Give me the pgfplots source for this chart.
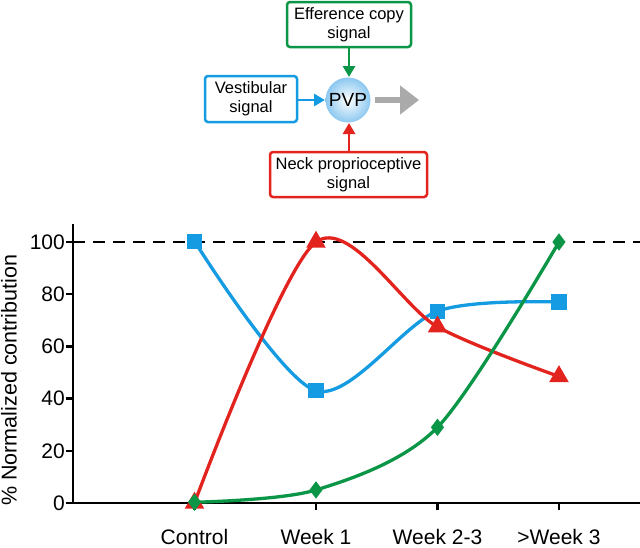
\documentclass[border=0pt]{standalone}
\usepackage{fontspec}
\setmainfont{Liberation Sans}
\usepackage{pgfplots}
\pgfplotsset{compat=1.18}
\usetikzlibrary{arrows.meta}
\definecolor{cblue}{RGB}{20,155,225}
\definecolor{cred}{RGB}{226,35,30}
\definecolor{cgreen}{RGB}{10,150,70}
\definecolor{cgray}{RGB}{170,170,170}
\definecolor{cball}{RGB}{140,200,240}
\begin{document}
\begin{tikzpicture}[x=1pt,y=1pt]
\useasboundingbox (0pt,0pt) rectangle (640pt,-547pt);
% diagram
\draw[cgreen, line width=2.5pt, rounded corners=3pt] (287pt,-2pt) rectangle (411pt,-47pt);
\node[align=center, font=\fontsize{16.5}{19}\selectfont, inner sep=0pt] at (349pt,-24.5pt) {Efference copy\\signal};
\draw[cblue, line width=2.5pt, rounded corners=3pt] (205pt,-76pt) rectangle (297pt,-122pt);
\node[align=center, font=\fontsize{16.5}{19}\selectfont, inner sep=0pt] at (251pt,-99pt) {Vestibular\\signal};
\draw[cred, line width=2.5pt, rounded corners=3pt] (270pt,-152pt) rectangle (427pt,-197pt);
\node[align=center, font=\fontsize{16.5}{19}\selectfont, inner sep=0pt] at (348.5pt,-174.5pt) {Neck proprioceptive\\signal};
\draw[cblue, line width=2.8pt, -{Triangle[length=11pt,width=12pt]}] (297pt,-100pt) -- (325pt,-100pt);
\draw[cgreen, line width=2.8pt, -{Triangle[length=11pt,width=12pt]}] (349pt,-47pt) -- (349pt,-77pt);
\draw[cred, line width=2.8pt, -{Triangle[length=11pt,width=12pt]}] (349pt,-152pt) -- (349pt,-123pt);
\shade[inner color=white, outer color=cball] (348pt,-100pt) circle (22.5pt);
\node[font=\fontsize{19}{22}\selectfont] at (348pt,-100pt) {PVP};
\draw[cgray, line width=6.5pt, -{Triangle[length=19pt,width=28pt]}] (375pt,-100pt) -- (419pt,-100pt);
% chart
\begin{axis}[
  at={(73pt,-503pt)}, anchor=south west,
  scale only axis, width=567pt, height=279pt,
  xmin=0, xmax=4.667, ymin=0, ymax=106.9,
  axis x line=bottom, axis y line=left,
  axis line style={-, line width=2.5pt, black},
  tick align=outside,
  major tick length=6.5pt,
  every tick/.style={black, line width=2.3pt},
  xtick={1,2,3,4},
  xticklabels={Control,Week 1,Week 2-3,>Week 3},
  ytick={0,20,40,60,80,100},
  /pgf/number format/assume math mode=true,
  ticklabel style={font=\fontsize{21}{24}\selectfont},
  xticklabel style={anchor=base, yshift=-34.5pt},
  yticklabel style={anchor=east, inner xsep=1.5pt},
  ylabel={\% Normalized contribution},
  ylabel style={at={(axis description cs:-0.113,0.44)}, anchor=center, font=\fontsize{21.5}{24}\selectfont},
  clip=false,
]
\addplot[black, line width=2.8pt, dash pattern=on 12pt off 8pt] coordinates {(0,100) (4.667,100)};
\addplot[cblue, line width=3.3pt, smooth, mark=square*, mark size=6pt, mark options={solid}] coordinates {(1,100.3) (2,43) (3,73.5) (4,77)};
\addplot[cred, line width=3.3pt, smooth, tension=0.5, mark=triangle*, mark size=8pt, mark options={solid}] coordinates {(1,0) (2,100) (3,67.5) (4,48.5)};
\addplot[cgreen, line width=3.3pt, smooth, mark=diamond*, mark size=6pt, mark options={solid}] coordinates {(1,0.3) (2,5) (3,29) (4,100)};
\end{axis}
\end{tikzpicture}
\end{document}
